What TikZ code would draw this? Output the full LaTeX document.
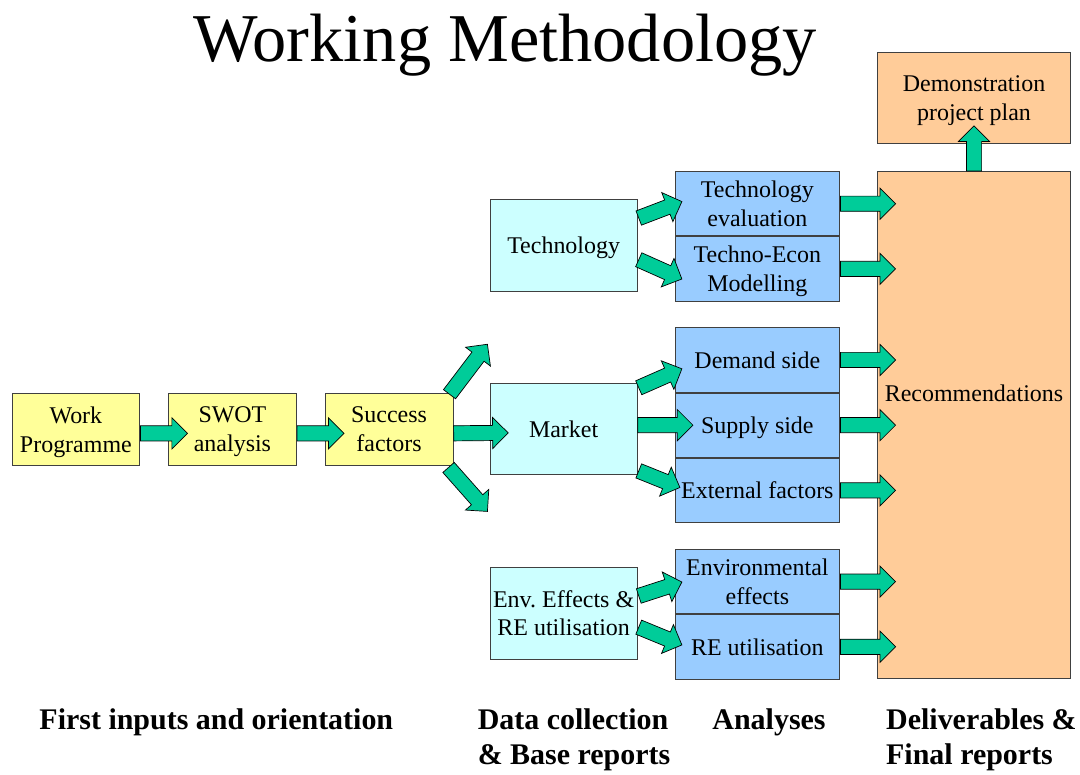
\documentclass[tikz,border=0pt]{standalone}
\usepackage{fontspec}
\setmainfont{Liberation Serif}
\usepackage{tikz}
\usetikzlibrary{shapes.arrows,positioning,calc}

\definecolor{inyellow}{HTML}{FFFF99}
\definecolor{datacyan}{HTML}{CCFFFF}
\definecolor{anablue}{HTML}{99CCFF}
\definecolor{delorange}{HTML}{FFCC99}
\definecolor{flowgreen}{HTML}{00CC99}

\newcommand{\boxfont}{\fontsize{24}{29}\selectfont}
\newcommand{\phasefont}{\fontsize{30}{35}\selectfont\bfseries}

\tikzset{
  mbox/.style={
    rectangle, draw=black!75, line width=0.8pt,
    align=center, inner sep=2pt, text depth=-5pt, font=\boxfont
  },
  inputbox/.style={mbox, fill=inyellow, minimum width=128pt, minimum height=73pt},
  databox/.style={mbox, fill=datacyan, minimum width=147pt, minimum height=92pt, inner xsep=1pt},
  anabox/.style={mbox, fill=anablue, minimum width=165pt, minimum height=64.5pt, inner xsep=1pt},
  delbox/.style={mbox, fill=delorange, minimum width=193pt},
  flowarr/.style={
    single arrow, draw=black, line width=0.7pt, fill=flowgreen,
    inner sep=0pt, text height=14.5pt, text depth=0pt,
    single arrow head extend=8pt
  },
  phase/.style={font=\phasefont, align=left, anchor=base west},
}

% fat arrow from point #1 to point #2
\newcommand{\flowarrow}[2]{%
  \path let \p1=#1, \p2=#2,
    \n1={atan2((\y2)-(\y1),(\x2)-(\x1))},
    \n2={veclen((\x2)-(\x1),(\y2)-(\y1))} in
    node[flowarr, minimum height=\n2, rotate=\n1, anchor=tail] at (\p1) {};}

\begin{document}
\begin{tikzpicture}[x=1pt, y=-1pt, font=\boxfont]
  \path[fill=white] (0,0) rectangle (1080,772);
  \node[anchor=base, font=\fontsize{68.5}{80}\selectfont] (title) at (506,62) {Working Methodology};

  % first inputs
  \node[inputbox] (wp) at (76,430) {Work\\Programme};
  \node[inputbox, right=28pt of wp] (swot) {SWOT\\analysis};
  \node[inputbox, right=28pt of swot] (success) {Success\\factors};

  % data collection
  \node[databox] (tech) at (564.5,245.5) {Technology};
  \node[databox] (market) at (564.5,429.5) {Market};
  \node[databox] (env) at (564.5,614) {Env.\ Effects \&\\RE utilisation};

  % analyses
  \node[anabox] (teval) at (758.5,204) {Technology\\evaluation};
  \node[anabox, below=0pt of teval] (tecon) {Techno-Econ\\Modelling};
  \node[anabox] (demand) at (758.5,360.5) {Demand side};
  \node[anabox, below=0pt of demand] (supply) {Supply side};
  \node[anabox, below=0pt of supply] (external) {External factors};
  \node[anabox] (enveff) at (758.5,582.5) {Environmental\\effects};
  \node[anabox, below=0pt of enveff] (reutil) {RE utilisation};

  % deliverables
  \node[delbox, minimum height=507pt,
    label={[font=\boxfont, yshift=32pt]center:Recommendations}] (rec) at (975.5,425.5) {};
  \node[delbox, minimum height=92pt] (demo) at (975.5,98) {Demonstration\\project plan};

  % arrows
  \coordinate (upend) at (488,345);
  \coordinate (downend) at (488,512);
  \flowarrow{($(wp.east)+(0,4)$)}{($(swot.west)+(19,4)$)}
  \flowarrow{($(swot.east)+(0,4)$)}{($(success.west)+(19,4)$)}
  \flowarrow{($(success.east)+(0,4)$)}{($(market.west)+(18,4)$)}
  \flowarrow{($(success.north east)+(-4,2)$)}{(upend)}
  \flowarrow{($(success.south east)+(-5,1)$)}{(downend)}
  \flowarrow{($(tech.east)+(1,-27)$)}{($(teval.west)+(7,-2)$)}
  \flowarrow{($(tech.east)+(1,14.5)$)}{($(tecon.west)+(7,10)$)}
  \flowarrow{($(market.east)+(1,-41)$)}{($(demand.west)+(7,9)$)}
  \flowarrow{(market.east |- supply.west)}{($(supply.west)+(18,0)$)}
  \flowarrow{($(market.east)+(1,42)$)}{($(external.west)+(5,-3)$)}
  \flowarrow{($(env.east)+(1,-17)$)}{($(enveff.west)+(7,0.5)$)}
  \flowarrow{($(env.east)+(1,14)$)}{($(reutil.west)+(7,-2)$)}
  \foreach \a in {teval,tecon,demand,supply,external,enveff,reutil}{
    \flowarrow{(\a.east)}{($(\a.east -| rec.west)+(18,0)$)}
  }
  \flowarrow{(rec.north)}{($(demo.south)+(0,-18)$)}

  % phase captions
  \node[phase] (p1) at (36,731) {First inputs and orientation};
  \node[phase] (p2) at (475,766) {Data collection\\\& Base reports};
  \node[phase] (p3) at (710,731) {Analyses};
  \node[phase] (p4) at (884,766) {Deliverables \&\\Final reports};
\end{tikzpicture}
\end{document}
